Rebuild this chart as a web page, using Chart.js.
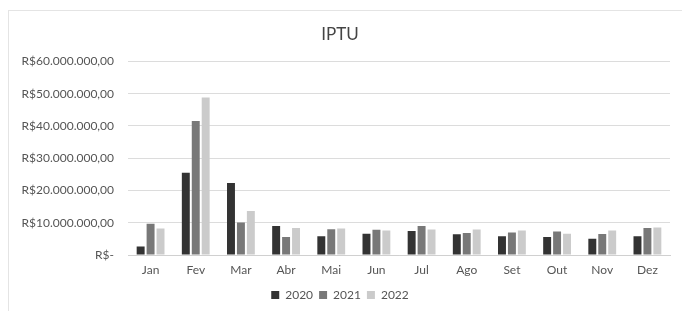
<!DOCTYPE html>
<html>
<head>
<meta charset="utf-8">
<script src="https://cdn.jsdelivr.net/npm/chart.js@4"></script>
<style>
  html, body { margin: 0; padding: 0; background: #fff; }
  #wrap { position: relative; width: 682px; height: 311px; }
  #frame { position: absolute; left: 8px; top: 10px; right: 0; bottom: 0;
           border-left: 1px solid #e4e4e4; border-top: 1px solid #e4e4e4; }
</style>
</head>
<body>
<div id="wrap">
  <div id="frame"></div>
  <canvas id="iptuChart" width="682" height="311"></canvas>
</div>
<script>
// meses e valores arrecadados (R$)
const meses = ['Jan', 'Fev', 'Mar', 'Abr', 'Mai', 'Jun', 'Jul', 'Ago', 'Set', 'Out', 'Nov', 'Dez'];
const anos = ['2020', '2021', '2022'];
const valores2020 = [2600000, 25500000, 22300000, 9000000, 5800000, 6600000, 7400000, 6400000, 5800000, 5600000, 5000000, 5800000];
const valores2021 = [9700000, 41500000, 10100000, 5600000, 8000000, 7800000, 9000000, 6800000, 7000000, 7300000, 6500000, 8400000];
const valores2022 = [8200000, 48800000, 13600000, 8400000, 8200000, 7600000, 7900000, 7900000, 7600000, 6600000, 7600000, 8500000];
const yTicks = [0, 10000000, 20000000, 30000000, 40000000, 50000000, 60000000];

const cores = ['#333333', '#787878', '#cbcbcb'];
const fonte = "'Lato', 'Open Sans', sans-serif";

const formatReal = (v) => {
  if (v === 0) return 'R$-';
  return 'R$' + v.toLocaleString('pt-BR', { minimumFractionDigits: 2, maximumFractionDigits: 2 });
};

new Chart(document.getElementById('iptuChart').getContext('2d'), {
  type: 'bar',
  data: {
    labels: meses,
    datasets: [valores2020, valores2021, valores2022].map((d, i) => ({
      label: anos[i],
      data: d,
      backgroundColor: cores[i],
      borderWidth: 0,
      categoryPercentage: 0.66,
      barPercentage: 0.8
    }))
  },
  options: {
    responsive: false,
    animation: false,
    layout: { padding: { left: 10, right: 12, top: 20, bottom: 0 } },
    plugins: {
      title: {
        display: true,
        text: 'IPTU',
        color: '#444',
        font: { family: fonte, size: 17, weight: 'normal' },
        padding: { top: 4, bottom: 17 }
      },
      legend: {
        display: true,
        position: 'bottom',
        labels: {
          color: '#555',
          font: { family: fonte, size: 12 },
          boxWidth: 8,
          boxHeight: 8,
          padding: 6
        }
      },
      tooltip: { enabled: false }
    },
    scales: {
      x: {
        afterFit: (scale) => { scale.height = 28; },
        grid: { display: false },
        border: { color: '#d0d0d0' },
        ticks: { color: '#555', font: { family: fonte, size: 12 }, padding: 0 }
      },
      y: {
        min: 0,
        max: 60000000,
        afterBuildTicks: (scale) => { scale.ticks = yTicks.map(v => ({ value: v })); },
        afterFit: (scale) => { scale.width = 118; },
        grid: { color: '#dcdcdc', drawTicks: false },
        border: { display: false },
        ticks: {
          color: '#555',
          font: { family: fonte, size: 12 },
          padding: 14,
          callback: (v) => formatReal(v)
        }
      }
    }
  }
});
</script>
</body>
</html>
